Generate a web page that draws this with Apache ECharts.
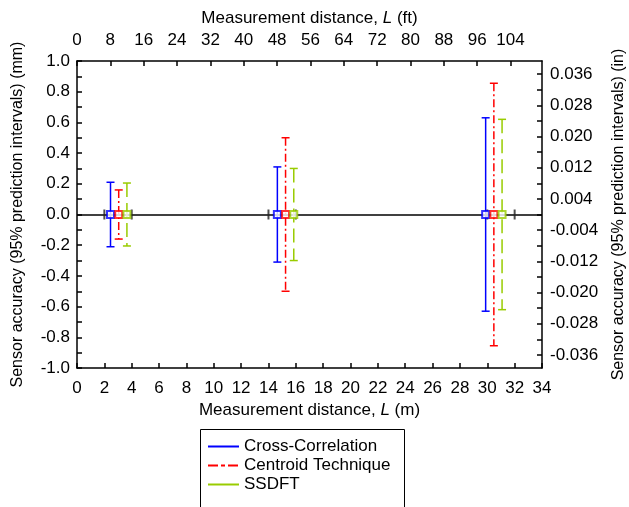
<!DOCTYPE html>
<html>
<head>
<meta charset="utf-8">
<script src="https://cdn.jsdelivr.net/npm/echarts@6/dist/echarts.min.js"></script>
<style>html,body{margin:0;padding:0;background:#fff}#c{width:629px;height:507px}</style>
</head>
<body>
<div id="c"></div>
<script>
const seriesNames = ['Cross-Correlation', 'Centroid Technique', 'SSDFT'];
const seriesColors = ['#0000ff', '#ff0000', '#99cc00'];
// distance in metres, half-width of 95% prediction interval in mm
const ccDistance = [2.45, 14.65, 29.88];
const ccAccuracy = [0.21, 0.31, 0.63];
const ctDistance = [3.05, 15.25, 30.48];
const ctAccuracy = [0.16, 0.50, 0.855];
const ssDistance = [3.65, 15.85, 31.08];
const ssAccuracy = [0.205, 0.30, 0.62];
const zeroLineTicks = [2, 4, 14, 16, 30, 32];
const topTickLabels = [0, 8, 16, 24, 32, 40, 48, 56, 64, 72, 80, 88, 96, 104];
const rightTickLabels = [-0.036, -0.028, -0.020, -0.012, -0.004, 0.004, 0.012, 0.020, 0.028, 0.036];
const rightTicks = [-0.036, -0.032, -0.028, -0.024, -0.020, -0.016, -0.012, -0.008, -0.004, 0, 0.004, 0.008, 0.012, 0.016, 0.020, 0.024, 0.028, 0.032, 0.036];

const FT_PER_M = 3.28084;
const MM_PER_IN = 25.4;
const FONT = 'Liberation Sans, Arial, sans-serif';
const FS = 17;
const dashes = [null, [8, 3, 2, 3], [14, 6]];
const legendDashes = ['solid', [10, 3, 4, 3], 'solid'];

const groups = [
  { d: ccDistance, a: ccAccuracy },
  { d: ctDistance, a: ctAccuracy },
  { d: ssDistance, a: ssAccuracy }
];

function errRender(color, dash) {
  return function (params, api) {
    const x = api.value(0), e = api.value(1);
    const top = api.coord([x, e]), bot = api.coord([x, -e]);
    const w = 4;
    return {
      type: 'group',
      children: [
        { type: 'line', shape: { x1: top[0], y1: top[1], x2: bot[0], y2: bot[1] },
          style: { stroke: color, lineWidth: 1.5, lineDash: dash || null } },
        { type: 'line', shape: { x1: top[0] - w, y1: top[1], x2: top[0] + w, y2: top[1] },
          style: { stroke: color, lineWidth: 1.5 } },
        { type: 'line', shape: { x1: bot[0] - w, y1: bot[1], x2: bot[0] + w, y2: bot[1] },
          style: { stroke: color, lineWidth: 1.5 } }
      ]
    };
  };
}

const axisLineStyle = { onZero: false, lineStyle: { color: '#000', width: 1.5 } };
const tickStyle = { inside: true, length: 5, lineStyle: { color: '#000', width: 1.5 } };
const labelStyle = { color: '#000', fontSize: FS, fontFamily: FONT };
const nameStyle = {
  color: '#000', fontSize: FS, fontFamily: FONT,
  rich: {
    n: { fontSize: FS, fontFamily: FONT, color: '#000' },
    i: { fontSize: FS, fontFamily: FONT, color: '#000', fontStyle: 'italic' }
  }
};
const yNameStyle = { color: '#000', fontSize: 16, fontFamily: FONT };

const series = [];
// legend-icon series (empty), first so legend uses their line style
seriesNames.forEach((n, k) => {
  series.push({
    type: 'line', name: n, data: [], symbol: 'none', xAxisIndex: 0, yAxisIndex: 0,
    lineStyle: { color: seriesColors[k], width: 1.5, type: legendDashes[k] },
    itemStyle: { color: seriesColors[k] }
  });
});
// zero line with black ticks
series.push({
  type: 'scatter', name: 'zero', xAxisIndex: 0, yAxisIndex: 0, silent: true,
  data: zeroLineTicks.map(x => [x, 0]),
  symbol: 'rect', symbolSize: [2, 10],
  itemStyle: { color: '#222' }, z: 3,
  markLine: {
    silent: true, symbol: 'none', label: { show: false },
    lineStyle: { color: '#000', width: 1.5, type: 'solid' },
    data: [{ yAxis: 0 }], z: 2
  }
});
groups.forEach((g, k) => {
  const data = g.d.map((d, i) => [d, g.a[i]]);
  series.push({
    type: 'custom', name: seriesNames[k], xAxisIndex: 0, yAxisIndex: 0,
    renderItem: errRender(seriesColors[k], dashes[k]),
    data: data, encode: { x: 0, y: 1 }, z: 4, silent: true
  });
  series.push({
    type: 'scatter', name: seriesNames[k], xAxisIndex: 0, yAxisIndex: 0,
    data: g.d.map(d => [d, 0]),
    symbol: 'emptyRect', symbolSize: 7,
    itemStyle: { color: seriesColors[k], borderColor: seriesColors[k], borderWidth: 1.5 },
    z: 5
  });
});

const chart = echarts.init(document.getElementById('c'), null, { renderer: 'canvas' });
chart.setOption({
  animation: false,
  backgroundColor: '#fff',
  textStyle: { fontFamily: FONT },
  grid: { left: 77, right: 87, top: 61, bottom: 139, containLabel: false, outerBoundsMode: 'none' },
  legend: {
    orient: 'vertical', left: 202, top: 433,
    data: seriesNames,
    itemWidth: 31, itemHeight: 14, itemGap: 2,
    itemStyle: { opacity: 0 },
    textStyle: { color: '#000', fontSize: FS, fontFamily: FONT },
    selectedMode: false
  },
  graphic: [{
    type: 'rect', left: 198, top: 427,
    shape: { width: 204, height: 100 },
    style: { fill: 'none', stroke: '#000', lineWidth: 1 }, silent: true
  }],
  xAxis: [{
    type: 'value', position: 'bottom', min: 0, max: 34, interval: 2,
    name: '{n|Measurement distance, }{i|L}{n| (m)}',
    nameLocation: 'middle', nameGap: 32, nameTextStyle: nameStyle,
    axisLine: axisLineStyle, axisTick: tickStyle,
    axisLabel: Object.assign({ margin: 12 }, labelStyle),
    splitLine: { show: false }
  }, {
    type: 'value', position: 'top', min: 0, max: 34 * FT_PER_M,
    name: '{n|Measurement distance, }{i|L}{n| (ft)}',
    nameLocation: 'middle', nameGap: 33, nameTextStyle: nameStyle,
    axisLine: axisLineStyle,
    axisTick: Object.assign({ customValues: topTickLabels }, tickStyle),
    axisLabel: Object.assign({ margin: 12, customValues: topTickLabels }, labelStyle),
    splitLine: { show: false }
  }],
  yAxis: [{
    type: 'value', position: 'left', min: -1, max: 1, interval: 0.2,
    name: 'Sensor accuracy (95% prediction intervals) (mm)',
    nameLocation: 'middle', nameGap: 51, nameRotate: 90, nameTextStyle: yNameStyle,
    axisLine: axisLineStyle, axisTick: tickStyle,
    minorTick: { show: true, splitNumber: 2, length: 5, lineStyle: { color: '#000', width: 1.5 } },
    axisLabel: Object.assign({ margin: 7, formatter: v => v.toFixed(1) }, labelStyle),
    splitLine: { show: false }
  }, {
    type: 'value', position: 'right', min: -1 / MM_PER_IN, max: 1 / MM_PER_IN,
    name: 'Sensor accuracy (95% prediction intervals) (in)',
    nameLocation: 'middle', nameGap: 69, nameRotate: 90, nameTextStyle: yNameStyle,
    axisLine: axisLineStyle,
    axisTick: Object.assign({ customValues: rightTicks }, tickStyle),
    axisLabel: Object.assign({ margin: 8, customValues: rightTickLabels, formatter: v => v.toFixed(3) }, labelStyle),
    splitLine: { show: false }
  }],
  series: series
});
</script>
</body>
</html>
